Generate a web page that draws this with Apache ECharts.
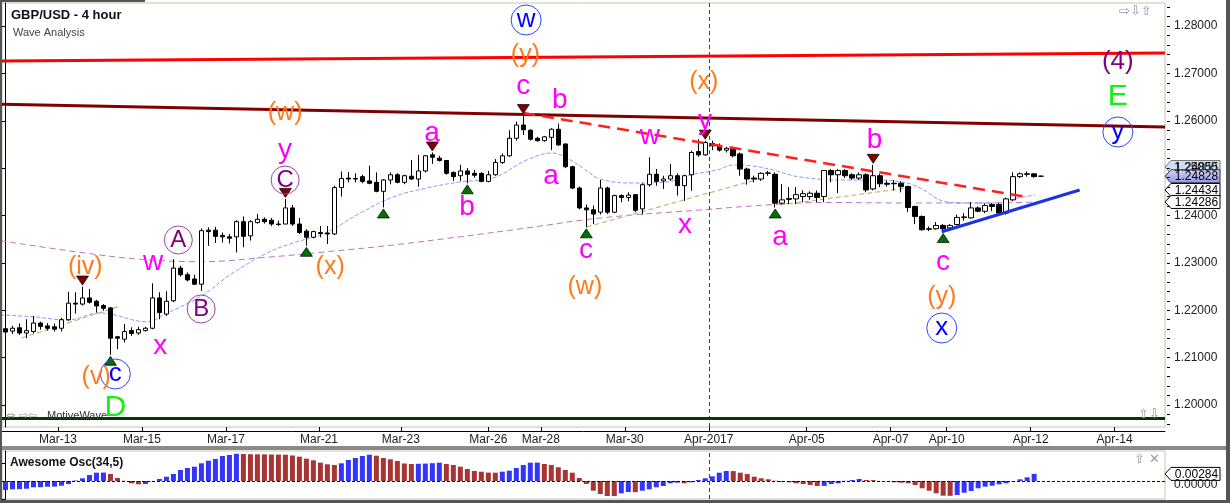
<!DOCTYPE html>
<html><head><meta charset="utf-8">
<script src="https://cdn.jsdelivr.net/npm/echarts@6/dist/echarts.min.js"></script>
<style>html,body{margin:0;padding:0;background:#fff;}#c{width:1230px;height:503px;}</style>
</head><body><div id="c"></div>
<script>
// ---------- DATA ----------
const openP=[1.2161,1.2156,1.2163,1.2152,1.2155,1.2173,1.2167,1.2165,1.2162,1.2180,
1.2215,1.2213,1.2226,1.2219,1.2210,1.2205,1.2144,1.2139,1.2157,1.2152,
1.2157,1.2162,1.2226,1.2192,1.2220,1.2289,1.2275,1.2266,1.2255,1.2369,
1.2369,1.2358,1.2355,1.2355,1.2387,1.2357,1.2385,1.2392,1.2390,1.2382,
1.2382,1.2416,1.2382,1.2367,1.2354,1.2364,1.2363,1.2361,1.2459,1.2479,
1.2477,1.2482,1.2473,1.2470,1.2451,1.2475,1.2486,1.2470,1.2483,1.2477,
1.2494,1.2528,1.2521,1.2516,1.2491,1.2484,1.2494,1.2489,1.2489,1.2472,
1.2486,1.2512,1.2526,1.2563,1.2591,1.2580,1.2563,1.2558,1.2565,1.2582,
1.2551,1.2503,1.2458,1.2416,1.2412,1.2407,1.2458,1.2407,1.2442,1.2438,
1.2444,1.2414,1.2465,1.2487,1.2473,1.2477,1.2484,1.2463,1.2486,1.2535,
1.2528,1.2552,1.2547,1.2538,1.2542,1.2530,1.2498,1.2479,1.2477,1.2489,
1.2487,1.2426,1.2434,1.2435,1.2440,1.2440,1.2447,1.2440,1.2495,1.2486,
1.2495,1.2486,1.2479,1.2486,1.2456,1.2484,1.2468,1.2468,1.2468,1.2461,
1.2419,1.2398,1.2372,1.2372,1.2379,1.2374,1.2381,1.2396,1.2395,1.2416,
1.2409,1.2423,1.2423,1.2405,1.2433,1.2482,1.2488,1.2488,1.2483];
const closeP=[1.2154,1.2162,1.2152,1.2157,1.2173,1.2166,1.2162,1.2160,1.2180,1.2215,
1.2213,1.2226,1.2217,1.2209,1.2204,1.2141,1.2141,1.2155,1.2151,1.2159,
1.2162,1.2226,1.2195,1.2219,1.2289,1.2275,1.2264,1.2255,1.2368,1.2366,
1.2356,1.2355,1.2352,1.2387,1.2356,1.2387,1.2392,1.2387,1.2382,1.2381,
1.2416,1.2382,1.2364,1.2354,1.2366,1.2362,1.2361,1.2459,1.2478,1.2477,
1.2478,1.2472,1.2468,1.2451,1.2475,1.2486,1.2470,1.2484,1.2477,1.2494,
1.2526,1.2523,1.2516,1.2489,1.2482,1.2494,1.2487,1.2485,1.2472,1.2486,
1.2512,1.2526,1.2563,1.2591,1.2581,1.2561,1.2558,1.2566,1.2582,1.2549,
1.2503,1.2458,1.2416,1.2412,1.2403,1.2458,1.2407,1.2442,1.2438,1.2443,
1.2411,1.2465,1.2487,1.2472,1.2477,1.2484,1.2463,1.2484,1.2533,1.2528,
1.2554,1.2547,1.2538,1.2542,1.2526,1.2498,1.2477,1.2477,1.2489,1.2490,
1.2426,1.2433,1.2436,1.2444,1.2446,1.2447,1.2438,1.2495,1.2486,1.2495,
1.2484,1.2479,1.2486,1.2454,1.2484,1.2467,1.2466,1.2467,1.2461,1.2417,
1.2398,1.2370,1.2371,1.2379,1.2372,1.2379,1.2396,1.2397,1.2416,1.2409,
1.2421,1.2419,1.2405,1.2435,1.2482,1.2488,1.2487,1.2482,1.2483];
const lowP=[1.2150,1.2150,1.2148,1.2141,1.2151,1.2159,1.2157,1.2155,1.2155,1.2178,
1.2193,1.2210,1.2214,1.2195,1.2199,1.2106,1.2118,1.2132,1.2146,1.2148,
1.2155,1.2160,1.2181,1.2188,1.2217,1.2271,1.2261,1.2253,1.2241,1.2336,
1.2342,1.2343,1.2341,1.2322,1.2333,1.2347,1.2383,1.2383,1.2378,1.2378,
1.2382,1.2378,1.2361,1.2336,1.2352,1.2354,1.2340,1.2359,1.2440,1.2470,
1.2470,1.2468,1.2466,1.2449,1.2417,1.2466,1.2468,1.2466,1.2475,1.2461,
1.2491,1.2509,1.2514,1.2486,1.2473,1.2473,1.2468,1.2480,1.2470,1.2470,
1.2484,1.2509,1.2524,1.2558,1.2570,1.2558,1.2556,1.2556,1.2538,1.2547,
1.2500,1.2456,1.2413,1.2375,1.2382,1.2402,1.2403,1.2405,1.2428,1.2430,
1.2407,1.2402,1.2461,1.2463,1.2456,1.2473,1.2442,1.2431,1.2452,1.2524,
1.2526,1.2538,1.2535,1.2533,1.2523,1.2484,1.2465,1.2470,1.2473,1.2484,
1.2417,1.2423,1.2424,1.2424,1.2428,1.2433,1.2428,1.2428,1.2470,1.2447,
1.2479,1.2475,1.2475,1.2449,1.2453,1.2460,1.2461,1.2453,1.2449,1.2407,
1.2382,1.2368,1.2367,1.2370,1.2365,1.2372,1.2379,1.2389,1.2393,1.2407,
1.2405,1.2409,1.2403,1.2402,1.2430,1.2479,1.2482,1.2480,1.2482];
const highP=[1.2164,1.2167,1.2172,1.2181,1.2188,1.2176,1.2173,1.2172,1.2184,1.2239,
1.2238,1.2250,1.2245,1.2222,1.2213,1.2207,1.2146,1.2171,1.2164,1.2165,
1.2165,1.2257,1.2238,1.2240,1.2308,1.2294,1.2280,1.2275,1.2373,1.2375,
1.2376,1.2364,1.2361,1.2390,1.2398,1.2390,1.2403,1.2396,1.2395,1.2389,
1.2435,1.2422,1.2395,1.2371,1.2368,1.2378,1.2378,1.2463,1.2493,1.2492,
1.2489,1.2486,1.2505,1.2491,1.2477,1.2491,1.2489,1.2486,1.2517,1.2528,
1.2528,1.2533,1.2526,1.2517,1.2493,1.2507,1.2500,1.2496,1.2491,1.2494,
1.2519,1.2531,1.2580,1.2598,1.2612,1.2582,1.2566,1.2568,1.2584,1.2594,
1.2552,1.2505,1.2461,1.2423,1.2421,1.2475,1.2461,1.2444,1.2445,1.2449,
1.2445,1.2468,1.2523,1.2498,1.2484,1.2509,1.2489,1.2486,1.2537,1.2561,
1.2558,1.2558,1.2552,1.2545,1.2545,1.2533,1.2501,1.2484,1.2491,1.2494,
1.2491,1.2466,1.2460,1.2460,1.2453,1.2451,1.2453,1.2496,1.2498,1.2498,
1.2498,1.2489,1.2491,1.2489,1.2507,1.2488,1.2474,1.2475,1.2472,1.2463,
1.2421,1.2400,1.2377,1.2386,1.2382,1.2382,1.2402,1.2405,1.2428,1.2419,
1.2426,1.2426,1.2426,1.2438,1.2491,1.2491,1.2493,1.2489,1.2484];

// Awesome Oscillator (one bar per candle)
const aoVals=[-0.00360,-0.00332,-0.00328,-0.00308,-0.00252,-0.00248,-0.00228,-0.00224,-0.00188,-0.00120,
0.00020,0.00108,0.00240,0.00332,0.00336,0.00280,0.00120,0.00008,-0.00092,-0.00132,
-0.00120,-0.00012,0.00080,0.00172,0.00280,0.00440,0.00520,0.00572,0.00708,0.00812,
0.00880,0.01000,0.01040,0.01088,0.01080,0.01072,0.01068,0.01064,0.01060,0.01056,
0.01052,0.01020,0.00972,0.00892,0.00828,0.00732,0.00668,0.00640,0.00708,0.00840,
0.00920,0.01000,0.01052,0.01012,0.00920,0.00868,0.00800,0.00700,0.00680,0.00688,
0.00696,0.00712,0.00732,0.00680,0.00640,0.00572,0.00480,0.00400,0.00372,0.00336,
0.00332,0.00372,0.00412,0.00520,0.00640,0.00732,0.00736,0.00680,0.00640,0.00548,
0.00440,0.00332,0.00120,-0.00120,-0.00388,-0.00520,-0.00600,-0.00604,-0.00492,-0.00440,
-0.00448,-0.00388,-0.00332,-0.00252,-0.00200,-0.00092,-0.00068,-0.00092,-0.00052,0.00040,
0.00108,0.00188,0.00332,0.00400,0.00396,0.00332,0.00280,0.00172,0.00108,0.00068,
0.00012,-0.00040,-0.00052,-0.00092,-0.00120,-0.00160,-0.00200,-0.00196,-0.00120,-0.00092,
0.00008,0.00040,0.00080,0.00040,0.00036,0.00002,-0.00008,-0.00052,-0.00068,-0.00092,
-0.00160,-0.00292,-0.00388,-0.00492,-0.00588,-0.00592,-0.00560,-0.00468,-0.00400,-0.00292,
-0.00228,-0.00188,-0.00132,-0.00092,-0.00012,0.00068,0.00148,0.00284];

// Moving averages (sampled along the drawn curves)
const blueMaIdx=[-0.76,3.96,8.8,13.5,20.2,23.1,27.8,32.5,37.4,41.1,45.7,50.7,55.4,60.2,64.9,69.7,74.5,78.2,80.2,82.5,85,89.7,94.5,97.8,101.7,104,106.8,109.7,113.5,120.2,124.9,128.8,130.7,134.5,137.4,141.7,144,147.1];
const blueMaVal=[1.21900,1.21864,1.21794,1.21942,1.21758,1.21942,1.22286,1.22786,1.23208,1.23420,1.23631,1.24053,1.24391,1.24580,1.24707,1.24792,1.25171,1.25319,1.25214,1.25003,1.24770,1.24686,1.24707,1.24855,1.24960,1.25066,1.25045,1.24960,1.24813,1.24749,1.24749,1.24686,1.24580,1.24285,1.24264,1.24264,1.24348,1.24433];
const purpleMaIdx=[-0.76,13.5,20.7,27.8,37.8,46,55.4,65,74.5,85,99.2,108.8,116.4,129.7,139.3,147.8];
const purpleMaVal=[1.23468,1.23166,1.23061,1.23025,1.23124,1.23236,1.23377,1.23552,1.23736,1.23947,1.24116,1.24222,1.24274,1.24264,1.24264,1.24285];

// Trend lines (end points: candle index, price)
const redLineIdx=[-0.5,165.7], redLineVal=[1.27261,1.27430];
const maroonLineIdx=[-0.5,165.7], maroonLineVal=[1.26347,1.25868];
const greenLineIdx=[-0.5,165.7], greenLineVal=[1.19715,1.19715];
const redDashIdx=[74,146], redDashVal=[1.26164,1.24391];
const blueTrendIdx=[133.8,153.5], blueTrendVal=[1.23658,1.24538];
const olive1Idx=[2.3,16.4], olive1Val=[1.21414,1.22090];
const olive2Idx=[83.06,108.2], olive2Val=[1.23757,1.24792];
const olive3Idx=[110.7,130.2], olive3Val=[1.24222,1.24608];
const vLineIdx=100.5;

// Swing markers (candle indices)
const topMarkIdx=[11,40,61,74,100,124];
const botMarkIdx=[15,43,54,66,83,110,134];

// Wave labels
const waveText=['w','(y)','c','b','(x)','y','w','(w)','y','C','a','b','a','c','(w)','x','a','b','c','(y)','x','(4)','E','y','(iv)','(v)','c','D','w','A','B','x','(x)'];
const waveKind=['blueCircle','orange','magenta','magenta','orange','magenta','magenta','orange','magenta','purpleCircle','magenta','magenta','magenta','magenta','orange','magenta','magenta','magenta','magenta','orange','blueCircle','purple','green','blueCircle','orange','orange','blueCircle','green','magenta','purpleCircle','purpleCircle','magenta','orange'];
const waveIdx=[74.4,74.3,74.0,79.2,99.8,99.96,92.1,39.96,39.96,39.96,60.96,65.96,77.96,82.96,82.8,97.1,110.67,124.2,133.96,133.8,133.8,158.96,158.96,158.96,11.4,12.96,15.7,15.7,21.1,24.7,27.96,22.1,46.4];
const wavePrice=[1.28127,1.27388,1.26734,1.26438,1.26818,1.25995,1.25678,1.26164,1.25383,1.24749,1.25741,1.24179,1.24834,1.23272,1.22491,1.23800,1.23546,1.25594,1.23019,1.22280,1.21625,1.2724,1.26501,1.25763,1.22913,1.20591,1.20654,1.19937,1.23018,1.23483,1.22026,1.21245,1.22913];

// Axis ticks
const dateTickPos=[7.5,19.5,31.5,44.8,56.5,69,76.5,88.5,100.5,114.5,126.5,134.5,146.5,158.5];
const dateTickText=['Mar-13','Mar-15','Mar-17','Mar-21','Mar-23','Mar-26','Mar-28','Mar-30','Apr-2017','Apr-05','Apr-07','Apr-10','Apr-12','Apr-14'];
const priceTicks=[1.20,1.21,1.22,1.23,1.24,1.25,1.26,1.27,1.28];
const aoTicks=[-0.0072,0,0.0072];
// right-hand value tags
const priceTagVals=[1.24855,1.24828,1.24434,1.24286];
const aoTagVal=0.00284;

// ---------- CHART ----------
const FONT='"Liberation Sans", Arial, Helvetica, sans-serif';
const X_MIN=-0.5, X_MAX=165.7;
const Y_MIN=1.195356, Y_MAX=1.284855;
const minorTicks=[]; for(let k=0;k<=44;k++){minorTicks.push(+(1.196+k*0.002).toFixed(3));}

const candles=openP.map((o,i)=>[i,o,closeP[i],lowP[i],highP[i]]);
const pairs=(a,b)=>a.map((x,k)=>[x,b[k]]);
const aoData=aoVals.map((v,i)=>({value:[i,v],itemStyle:{color:(i===0||v>=aoVals[i-1])?'#3434ff':'#a83434'}}));

const kindColor={orange:'#ff7a1a',magenta:'#ff00ff',purple:'#800080',green:'#14f014',blueCircle:'#0000ff',purpleCircle:'#800080'};
const kindSize={orange:25,magenta:28,purple:26,green:30,blueCircle:26,purpleCircle:24};
const labelData=waveText.map((t,k)=>{
  const kind=waveKind[k];
  const circ=kind==='blueCircle'||kind==='purpleCircle';
  return {
    value:[waveIdx[k],wavePrice[k]],
    symbol:'circle',
    symbolSize:circ?(kind==='blueCircle'?30:28):1,
    itemStyle:circ?{color:'rgba(255,255,255,0)',borderColor:kind==='blueCircle'?'#2a48ff':'#a040a8',borderWidth:1,opacity:1}:{color:'rgba(0,0,0,0)',opacity:1},
    label:{show:true,position:'inside',formatter:t,color:kindColor[kind],fontSize:kindSize[kind],fontFamily:FONT,opacity:1}
  };
});

function lineSeries(idx,val,color,width,type,z){
  return {type:'line',xAxisIndex:0,yAxisIndex:0,data:pairs(idx,val),showSymbol:false,symbol:'none',silent:true,z:z||6,
    lineStyle:{color:color,width:width,type:type||'solid',opacity:1},clip:true};
}

const chart=echarts.init(document.getElementById('c'));
chart.setOption({
  animation:false,
  backgroundColor:'#ffffff',
  textStyle:{fontFamily:FONT},
  grid:[
    {left:2,top:3,width:1163,height:424,show:true,borderColor:'#c4c4b4',borderWidth:1,backgroundColor:'#fff'},
    {left:2,top:451,width:1163,height:48,show:true,borderColor:'#c4c4b4',borderWidth:1,backgroundColor:'#fff'}
  ],
  xAxis:[
    {type:'value',gridIndex:0,min:X_MIN,max:X_MAX,position:'bottom',offset:4,
     axisLine:{show:true,lineStyle:{color:'#000',width:1}},
     axisTick:{show:true,inside:true,length:4,customValues:dateTickPos,lineStyle:{color:'#000'}},
     axisLabel:{show:true,customValues:dateTickPos,margin:3,color:'#222',fontSize:12,fontFamily:FONT,
       formatter:v=>{const k=dateTickPos.findIndex(p=>Math.abs(p-v)<1e-6);return k>=0?dateTickText[k]:'';}},
     splitLine:{show:false}},
    {type:'value',gridIndex:1,min:X_MIN,max:X_MAX,show:false}
  ],
  yAxis:[
    {type:'value',gridIndex:0,position:'right',min:Y_MIN,max:Y_MAX,offset:5,
     axisLine:{show:true,lineStyle:{color:'#000'}},
     axisTick:{show:true,inside:true,length:5,customValues:priceTicks,lineStyle:{color:'#000'}},
     axisLabel:{show:true,customValues:priceTicks,margin:4,color:'#222',fontSize:12,fontFamily:FONT,formatter:v=>v.toFixed(5)},
     splitLine:{show:false}},
    {type:'value',gridIndex:0,position:'right',min:Y_MIN,max:Y_MAX,offset:5,
     axisLine:{show:false},
     axisTick:{show:true,inside:true,length:3,customValues:minorTicks,lineStyle:{color:'#000'}},
     axisLabel:{show:false},splitLine:{show:false}},
    {type:'value',gridIndex:1,position:'right',min:-0.0072,max:0.012,offset:5,
     axisLine:{show:true,lineStyle:{color:'#000'}},
     axisTick:{show:true,inside:true,length:4,customValues:aoTicks,lineStyle:{color:'#000'}},
     axisLabel:{show:false},splitLine:{show:false}}
  ],
  series:[
    // moving averages (behind candles)
    {type:'line',xAxisIndex:0,yAxisIndex:0,data:pairs(purpleMaIdx,purpleMaVal),smooth:0.4,showSymbol:false,symbol:'none',silent:true,z:2,
     lineStyle:{color:'#c070c4',width:1,type:[6,4]}},
    {type:'line',xAxisIndex:0,yAxisIndex:0,data:pairs(blueMaIdx,blueMaVal),smooth:0.4,showSymbol:false,symbol:'none',silent:true,z:2,
     lineStyle:{color:'#7f9eff',width:1,type:[4,2]}},
    lineSeries(olive1Idx,olive1Val,'#c2ba6e',1.2,[5,3],3),
    lineSeries(olive2Idx,olive2Val,'#c2ba6e',1.2,[5,3],3),
    lineSeries(olive3Idx,olive3Val,'#c2ba6e',1.2,[5,3],3),
    // candles
    {type:'candlestick',xAxisIndex:0,yAxisIndex:0,
     dimensions:['idx','open','close','lowest','highest'],
     encode:{x:0,y:[1,2,3,4]},
     data:candles,barWidth:5,z:5,silent:true,
     itemStyle:{color:'#ffffff',color0:'#000000',borderColor:'#000000',borderColor0:'#000000',borderWidth:1},
     markLine:{silent:true,symbol:['none','none'],label:{show:false},
       lineStyle:{color:'#444',type:[4,3],width:1},data:[{xAxis:vLineIdx}]}},
    // trend lines
    lineSeries(redLineIdx,redLineVal,'#ff0000',3,'solid',6),
    lineSeries(maroonLineIdx,maroonLineVal,'#800000',3,'solid',6),
    lineSeries(greenLineIdx,greenLineVal,'#003c00',3,'solid',6),
    lineSeries(redDashIdx,redDashVal,'#ff2020',2.5,[12,7],7),
    lineSeries(blueTrendIdx,blueTrendVal,'#1a33e6',3,'solid',7),
    // swing markers
    {type:'scatter',xAxisIndex:0,yAxisIndex:0,data:topMarkIdx.map(i=>[i,highP[i]]),symbol:'triangle',symbolRotate:180,
     symbolSize:[12,9],symbolOffset:[0,-6],silent:true,z:8,itemStyle:{color:'#800000',borderColor:'#000',borderWidth:0.7,opacity:1}},
    {type:'scatter',xAxisIndex:0,yAxisIndex:0,data:botMarkIdx.map(i=>[i,lowP[i]]),symbol:'triangle',
     symbolSize:[12,9],symbolOffset:[0,6],silent:true,z:8,itemStyle:{color:'#007000',borderColor:'#000',borderWidth:0.7,opacity:1}},
    // wave labels
    {type:'scatter',xAxisIndex:0,yAxisIndex:0,data:labelData,silent:true,z:10,clip:false,itemStyle:{opacity:1}},
    // awesome oscillator
    {type:'bar',xAxisIndex:1,yAxisIndex:2,data:aoData,barWidth:5,silent:true,z:3,
     markLine:{silent:true,symbol:['none','none'],label:{show:false},
       data:[{yAxis:0,lineStyle:{color:'#000',type:[3,2],width:1}},
             {xAxis:vLineIdx,lineStyle:{color:'#444',type:[4,3],width:1}}]}}
  ]
});

// ---------- overlays: frames, titles, value tags ----------
function tag(y,text,fill,stroke){
  const x0=1165,x1=1220,h=6.5;
  return {type:'group',z:100,children:[
    {type:'polygon',shape:{points:[[x0,y],[x0+6,y-h],[x1,y-h],[x1,y+h],[x0+6,y+h]]},style:{fill:fill,stroke:stroke,lineWidth:1}},
    {type:'text',style:{text:text,x:(x0+6+x1)/2+1,y:y+0.5,align:'center',verticalAlign:'middle',font:'12px '+FONT,fill:'#000'}}
  ]};
}
const py=v=>chart.convertToPixel({yAxisIndex:0},v);
const ay=v=>chart.convertToPixel({yAxisIndex:2},v);
const lav=new echarts.graphic.LinearGradient(0,0,0,1,[{offset:0,color:'#d4d4fb'},{offset:1,color:'#9494e4'}]);
const g=[
  {type:'rect',z:90,shape:{x:0,y:446,width:1230,height:4},style:{fill:'#8a8a8a'}},
  {type:'rect',z:90,shape:{x:0,y:0,width:2,height:503},style:{fill:'#555'}},
  {type:'rect',z:90,shape:{x:1226,y:0,width:4,height:503},style:{fill:'#555'}},
  {type:'rect',z:90,shape:{x:0,y:500,width:1230,height:3},style:{fill:'#555'}},
  {type:'rect',z:90,shape:{x:0,y:0,width:145,height:2},style:{fill:'#555'}},
  {type:'text',z:90,style:{text:'GBP/USD - 4 hour',x:11,y:15,verticalAlign:'middle',font:'bold 13px '+FONT,fill:'#111'}},
  {type:'text',z:90,style:{text:'Wave Analysis',x:13,y:33,verticalAlign:'middle',font:'11px '+FONT,fill:'#444'}},
  {type:'text',z:90,style:{text:'Awesome Osc(34,5)',x:10,y:463,verticalAlign:'middle',font:'bold 12px '+FONT,fill:'#111'}},
  {type:'text',z:90,style:{text:'⇔ ⇨⇦',x:6,y:416,verticalAlign:'middle',font:'11px "DejaVu Sans"',fill:'#999'}},
  {type:'text',z:90,style:{text:'MotiveWave',x:47,y:416,verticalAlign:'middle',font:'11px '+FONT,fill:'#333'}},
  {type:'text',z:90,style:{text:'⇨⇩⇧',x:1119,y:12,verticalAlign:'middle',font:'13px "DejaVu Sans"',fill:'#999'}},
  {type:'text',z:90,style:{text:'⇧⇩',x:1138,y:415,verticalAlign:'middle',font:'13px "DejaVu Sans"',fill:'#999'}},
  {type:'text',z:90,style:{text:'⇧ ✕',x:1134,y:460,verticalAlign:'middle',font:'13px "DejaVu Sans"',fill:'#999'}},
  {type:'text',z:95,style:{text:'0.00000',x:1174,y:ay(0)+4,verticalAlign:'middle',font:'12px '+FONT,fill:'#222'}},
  tag(py(priceTagVals[0])-8,priceTagVals[0].toFixed(5),'#cfe0f5','#777'),
  tag(py(priceTagVals[1]),priceTagVals[1].toFixed(5),lav,'#333'),
  tag(py(priceTagVals[2])-5,priceTagVals[2].toFixed(5),'#fff','#000'),
  tag(py(priceTagVals[3]),priceTagVals[3].toFixed(5),'#fff','#000'),
  tag(ay(aoTagVal),aoTagVal.toFixed(5),'#fff','#000')
];
chart.setOption({graphic:g});
</script>
</body></html>
